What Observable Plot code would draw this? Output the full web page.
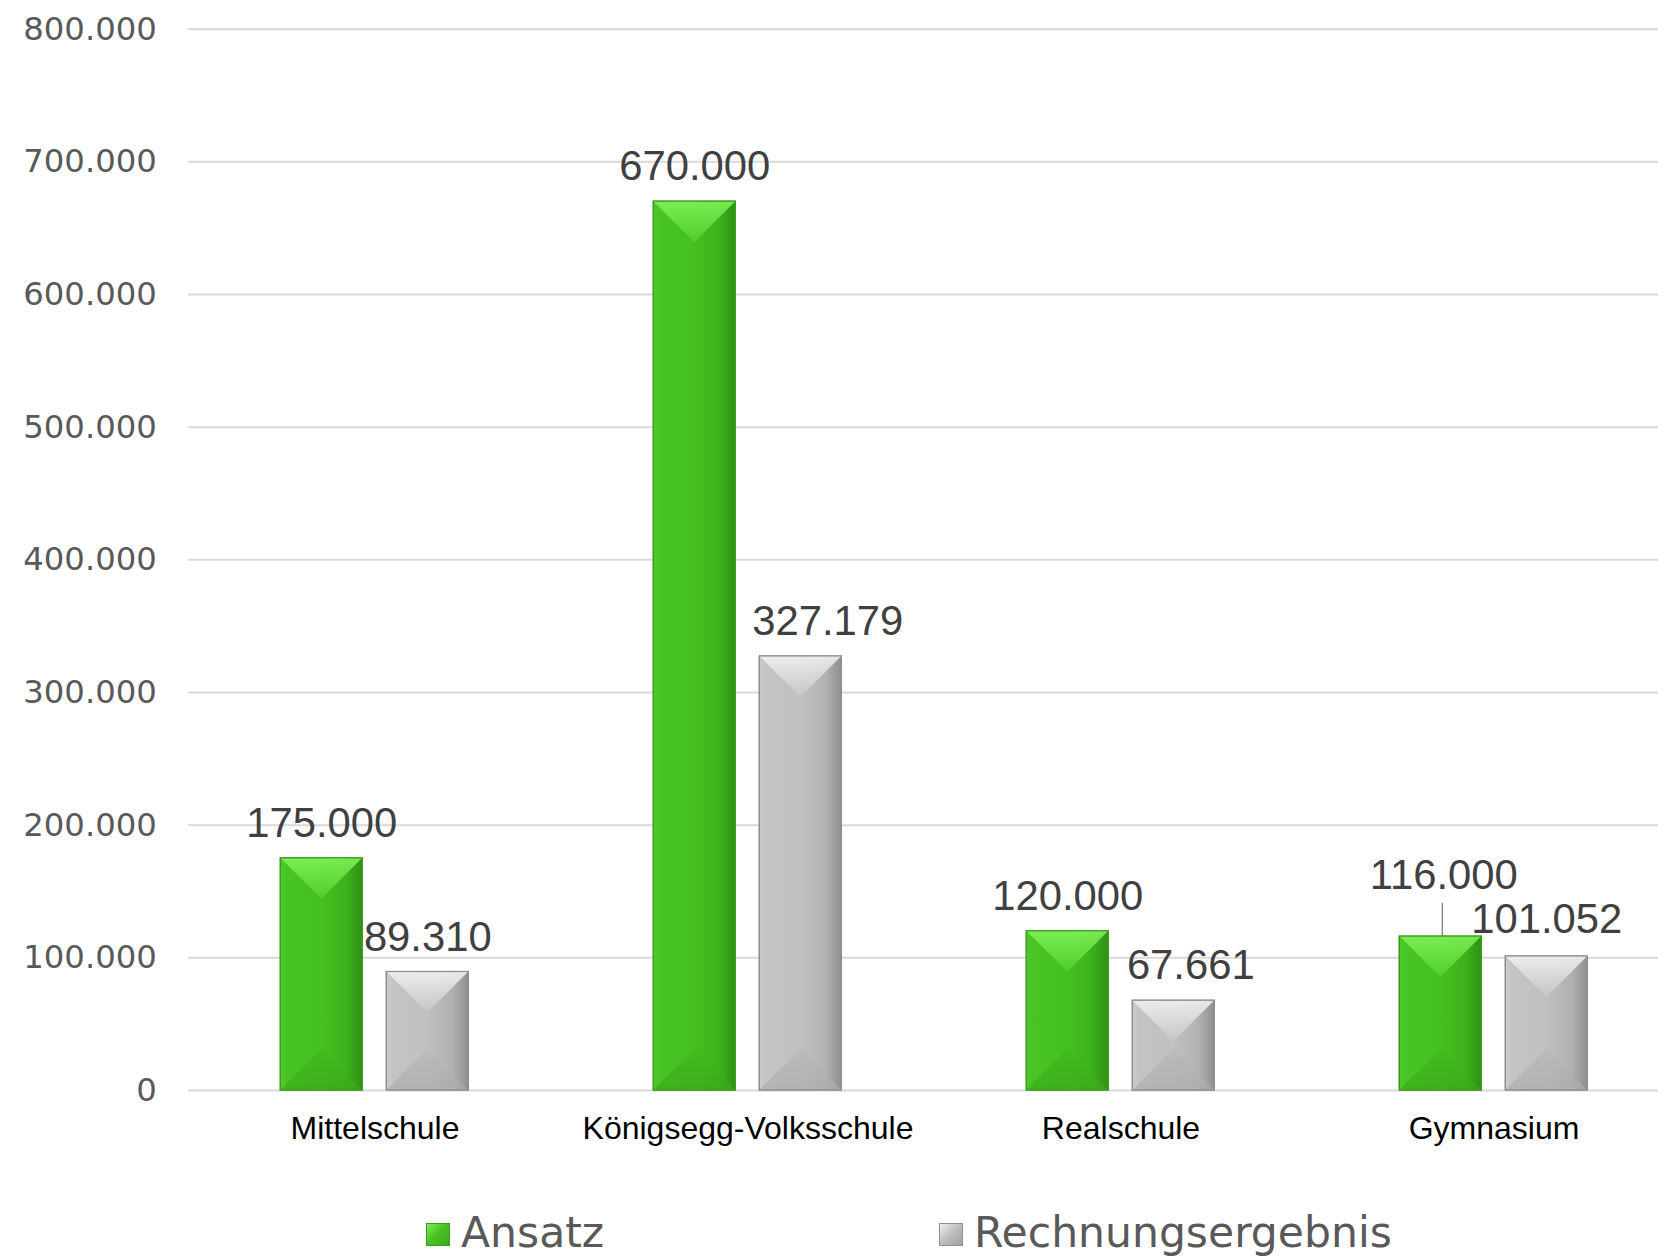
<!DOCTYPE html>
<html>
<head>
<meta charset="utf-8">
<script src="https://cdn.jsdelivr.net/npm/d3@7"></script>
<script src="https://cdn.jsdelivr.net/npm/@observablehq/plot@0.6"></script>
<style>
  html, body { margin: 0; padding: 0; background: #fff; overflow: hidden; }
  #chart svg { display: block; overflow: hidden; max-width: none; }
  #legend { position: relative; height: 48px; font-family: "DejaVu Sans", sans-serif; font-size: 42.5px; color: #595959; }
  #legend .sw { position: absolute; top: 14px; width: 24px; height: 23px; box-sizing: border-box; }
  #legend .lab { position: absolute; top: 0; line-height: 48px; white-space: nowrap; }
</style>
</head>
<body>
<div id="chart"></div>
<div id="legend"></div>
<script>
// ---- data ----
const categories = ["Mittelschule", "Königsegg-Volksschule", "Realschule", "Gymnasium"];
const seriesNames = ["Ansatz", "Rechnungsergebnis"];
const ansatz = [175000, 670000, 120000, 116000];
const rechnungsergebnis = [89310, 327179, 67661, 101052];
const yTicks = [0, 100000, 200000, 300000, 400000, 500000, 600000, 700000, 800000];

// label nudges (pixels) for labels that the reference moves off-centre
const labelNudge = {
  "Königsegg-Volksschule|Rechnungsergebnis": [27, 0],
  "Realschule|Rechnungsergebnis": [17, 0],
  "Gymnasium|Ansatz": [3, -26],
  "Gymnasium|Rechnungsergebnis": [0, -1.5]
};

const rows = categories.flatMap((c, i) => [
  {cat: c, series: seriesNames[0], value: ansatz[i]},
  {cat: c, series: seriesNames[1], value: rechnungsergebnis[i]}
]);

const de = d3.formatLocale({decimal: ",", thousands: ".", grouping: [3], currency: ["", " €"]});
const fmt = de.format(",d");

const labelMarks = rows.map(r => {
  const n = labelNudge[r.cat + "|" + r.series] || [0, 0];
  return Plot.text([r], {
    fx: "cat", x: "series", y: "value", text: d => fmt(d.value),
    lineAnchor: "bottom", dx: n[0], dy: -21.5 + n[1],
    fontSize: 41.8, fontFamily: "Liberation Sans, Arial, sans-serif", fill: "#404040"
  });
});

const svg = Plot.plot({
  width: 1658,
  height: 1209,
  marginLeft: 186.7,
  marginRight: -22.7,
  marginTop: 28.7,
  marginBottom: 119,
  style: {background: "#fff"},
  fx: {domain: categories, padding: 0},
  x: {domain: seriesNames, paddingInner: 0.2243, paddingOuter: 0.858, axis: null},
  y: {domain: [0, 800000]},
  color: {domain: seriesNames, range: ["url(#gGreen)", "url(#gGray)"]},
  marks: [
    Plot.gridY({ticks: yTicks, stroke: "#d9d9d9", strokeOpacity: 1, strokeWidth: 2}),
    Plot.axisY({ticks: yTicks, tickFormat: fmt, tickSize: 0, tickPadding: 31.7, label: null,
      fontSize: 32.3, fontFamily: "DejaVu Sans, sans-serif", fill: "#595959"}),
    Plot.axisFx({anchor: "bottom", tickSize: 0, tickPadding: 26, label: null,
      fontSize: 32, fontFamily: "Liberation Sans, Arial, sans-serif", fill: "#000"}),
    Plot.barY(rows, {fx: "cat", x: "series", y: "value", fill: "series",
      stroke: d => d.series === seriesNames[0] ? "#3a9c1c" : "#8e8e8e", strokeWidth: 1.2}),
    Plot.ruleX(rows.filter(r => r.cat === "Gymnasium" && r.series === "Ansatz"),
      {fx: "cat", x: "series", y1: "value", y2: "value", insetTop: -33, dx: 1.5, stroke: "#7f7f7f", strokeWidth: 1.3}),
    ...labelMarks
  ]
});

// gradient definitions for the bevelled bars
const defs = `
<defs>
  <linearGradient id="gGreen" x1="0" x2="1" y1="0" y2="0">
    <stop offset="0" stop-color="#4fca29"/>
    <stop offset="0.08" stop-color="#48c424"/>
    <stop offset="0.5" stop-color="#44c020"/>
    <stop offset="0.8" stop-color="#3db21c"/>
    <stop offset="1" stop-color="#2f8f14"/>
  </linearGradient>
  <linearGradient id="gGreenTop" x1="0" x2="0" y1="0" y2="1">
    <stop offset="0" stop-color="#82f65c"/>
    <stop offset="1" stop-color="#52d02e"/>
  </linearGradient>
  <linearGradient id="gGreenBot" x1="0" x2="0" y1="0" y2="1">
    <stop offset="0" stop-color="#41b81e"/>
    <stop offset="1" stop-color="#3aaa1a"/>
  </linearGradient>
  <linearGradient id="gGray" x1="0" x2="1" y1="0" y2="0">
    <stop offset="0" stop-color="#cbcbcb"/>
    <stop offset="0.08" stop-color="#c4c4c4"/>
    <stop offset="0.5" stop-color="#c0c0c0"/>
    <stop offset="0.8" stop-color="#b2b2b2"/>
    <stop offset="1" stop-color="#909090"/>
  </linearGradient>
  <linearGradient id="gGrayTop" x1="0" x2="0" y1="0" y2="1">
    <stop offset="0" stop-color="#f4f4f4"/>
    <stop offset="1" stop-color="#c6c6c6"/>
  </linearGradient>
  <linearGradient id="gGrayBot" x1="0" x2="0" y1="0" y2="1">
    <stop offset="0" stop-color="#b8b8b8"/>
    <stop offset="1" stop-color="#acacac"/>
  </linearGradient>
</defs>`;
svg.insertAdjacentHTML("afterbegin", defs);

// add bevel facets on top of each rendered bar (read from the rendered rects)
const NS = "http://www.w3.org/2000/svg";
svg.querySelectorAll("rect").forEach(rect => {
  const f = rect.getAttribute("fill") || "";
  if (!f.startsWith("url(")) return;
  const green = f.includes("gGreen");
  const x = +rect.getAttribute("x"), y = +rect.getAttribute("y");
  const w = +rect.getAttribute("width"), h = +rect.getAttribute("height");
  const d = Math.min(w / 2, h / 2);
  const top = document.createElementNS(NS, "polygon");
  top.setAttribute("points", `${x},${y} ${x + w},${y} ${x + w - d},${y + d} ${x + d},${y + d}`);
  top.setAttribute("fill", green ? "url(#gGreenTop)" : "url(#gGrayTop)");
  top.setAttribute("opacity", "0.85");
  const bot = document.createElementNS(NS, "polygon");
  bot.setAttribute("points", `${x},${y + h} ${x + w},${y + h} ${x + w - d},${y + h - d} ${x + d},${y + h - d}`);
  bot.setAttribute("fill", green ? "url(#gGreenBot)" : "url(#gGrayBot)");
  bot.setAttribute("opacity", "0.7");
  const edge = rect.cloneNode(false);
  edge.setAttribute("fill", "none");
  const p = rect.parentNode;
  const next = rect.nextSibling;
  p.insertBefore(top, next);
  p.insertBefore(bot, next);
  p.insertBefore(edge, next);
});

document.getElementById("chart").appendChild(svg);

// legend
const legend = document.getElementById("legend");
const legendItems = [
  {name: seriesNames[0], sw: 426, lab: 461, bg: "linear-gradient(135deg, #7ff15a 0%, #48c424 45%, #3aa81b 100%)", bd: "#3a9c1c"},
  {name: seriesNames[1], sw: 939, lab: 974, bg: "linear-gradient(135deg, #f0f0f0 0%, #c2c2c2 45%, #9e9e9e 100%)", bd: "#8e8e8e"}
];
legendItems.forEach(it => {
  const s = document.createElement("span");
  s.className = "sw";
  s.style.left = it.sw + "px";
  s.style.background = it.bg;
  s.style.border = "1px solid " + it.bd;
  legend.appendChild(s);
  const t = document.createElement("span");
  t.className = "lab";
  t.style.left = it.lab + "px";
  t.textContent = it.name;
  legend.appendChild(t);
});
</script>
</body>
</html>
